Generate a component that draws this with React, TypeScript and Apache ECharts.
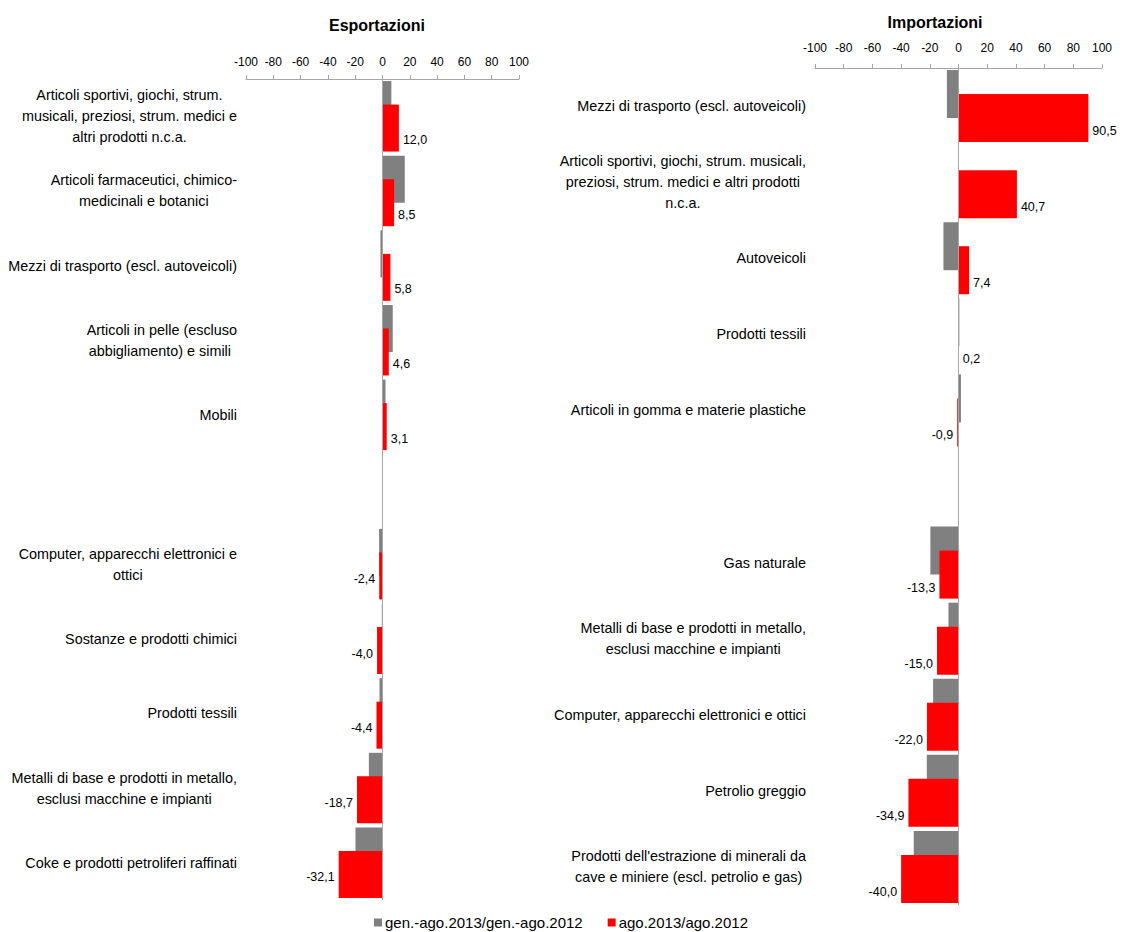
import React, { useEffect, useRef } from 'react';
import * as echarts from 'echarts';

const legendNames = ['gen.-ago.2013/gen.-ago.2012', 'ago.2013/ago.2012'];

const expCategories = [
  'Articoli sportivi, giochi, strum.\nmusicali, preziosi, strum. medici e\naltri prodotti n.c.a.',
  'Articoli farmaceutici, chimico-\nmedicinali e botanici',
  'Mezzi di trasporto (escl. autoveicoli)',
  'Articoli in pelle (escluso\nabbigliamento) e simili ',
  'Mobili',
  '',
  'Computer, apparecchi elettronici e\nottici',
  'Sostanze e prodotti chimici',
  'Prodotti tessili',
  'Metalli di base e prodotti in metallo,\nesclusi macchine e impianti',
  'Coke e prodotti petroliferi raffinati',
];
const expGenAgo = [6.5, 16.3, -1.5, 7.5, 2.2, null, -2.5, -0.5, -2.2, -10.0, -19.8];
const expAgo = [12.0, 8.5, 5.8, 4.6, 3.1, null, -2.4, -4.0, -4.4, -18.7, -32.1];

const impCategories = [
  'Mezzi di trasporto (escl. autoveicoli)',
  'Articoli sportivi, giochi, strum. musicali,\npreziosi, strum. medici e altri prodotti\nn.c.a.',
  'Autoveicoli',
  'Prodotti tessili',
  'Articoli in gomma e materie plastiche',
  '',
  'Gas naturale',
  'Metalli di base e prodotti in metallo,\nesclusi macchine e impianti',
  'Computer, apparecchi elettronici e ottici',
  'Petrolio greggio',
  "Prodotti dell'estrazione di minerali da\ncave e miniere (escl. petrolio e gas)",
];
const impGenAgo = [-8.1, 0.3, -10.5, 0.6, 1.7, null, -19.6, -7.0, -17.7, -22.1, -31.2];
const impAgo = [90.5, 40.7, 7.4, 0.2, -0.9, null, -13.3, -15.0, -22.0, -34.9, -40.0];

const axisMin = -100;
const axisMax = 100;
const axisStep = 20;

const GRAY = '#808080';
const RED = '#ff0000';
const AXIS_GRAY = '#a6a6a6';
const FONT = "'Liberation Sans', Arial, sans-serif";

function fmt(v: number) {
  return v.toFixed(1).replace('.', ',');
}

function redData(values: (number | null)[], posOffset: number, negOffset: number) {
  return values.map((v) =>
    v === null
      ? null
      : {
          value: v,
          label: {
            position: v < 0 ? 'left' : 'right',
            offset: [0, v < 0 ? negOffset : posOffset],
          },
        }
  );
}

export default function App() {
  const ref = useRef<HTMLDivElement>(null);

  useEffect(() => {
    document.body.style.margin = '0';
    if (!ref.current) return;
    const chart = echarts.init(ref.current, null, { renderer: 'svg' });

    const xAxisBase = (gridIndex: number, margin: number) => ({
      type: 'value',
      gridIndex,
      position: 'top',
      min: axisMin,
      max: axisMax,
      interval: axisStep,
      axisLine: { show: true, lineStyle: { color: AXIS_GRAY, width: 1 } },
      axisTick: { show: true, length: 4, lineStyle: { color: AXIS_GRAY } },
      axisLabel: { color: '#000', fontSize: 12, fontFamily: FONT, margin },
      splitLine: { show: false },
    });

    const yAxisBase = (gridIndex: number, data: string[]) => ({
      type: 'category',
      gridIndex,
      inverse: true,
      data,
      axisLine: { show: false },
      axisTick: { show: false },
      axisLabel: {
        color: '#000',
        fontSize: 14.4,
        fontFamily: FONT,
        lineHeight: 21,
        margin: 9,
        interval: 0,
        align: 'right',
        formatter: (v: string) =>
          v === '' ? '' : v.split('\n').map((l) => `{c|${l}}`).join('\n'),
        rich: {
          c: {
            align: 'center',
            color: '#000',
            fontSize: 14.4,
            fontFamily: FONT,
            lineHeight: 21,
          },
        },
      },
      splitLine: { show: false },
    });

    const labelCfg = {
      show: true,
      color: '#000',
      fontSize: 12.5,
      fontFamily: FONT,
      distance: 4,
      formatter: (p: any) => fmt(p.value),
    };

    const zeroLine = {
      silent: true,
      symbol: ['none', 'none'],
      label: { show: false },
      lineStyle: { color: AXIS_GRAY, type: 'solid', width: 1 },
      data: [{ xAxis: 0 }],
    };

    chart.setOption({
      animation: false,
      backgroundColor: '#ffffff',
      textStyle: { fontFamily: FONT },
      graphic: [
        {
          type: 'text',
          x: 377,
          y: 25,
          style: {
            text: 'Esportazioni',
            font: `bold 16px ${FONT}`,
            fill: '#000',
            textAlign: 'center',
            textVerticalAlign: 'middle',
          },
        },
        {
          type: 'text',
          x: 935,
          y: 22,
          style: {
            text: 'Importazioni',
            font: `bold 16px ${FONT}`,
            fill: '#000',
            textAlign: 'center',
            textVerticalAlign: 'middle',
          },
        },
      ],
      legend: {
        data: legendNames,
        left: 374,
        top: 915,
        padding: 0,
        itemWidth: 8,
        itemHeight: 8,
        itemGap: 25,
        icon: 'rect',
        textStyle: { color: '#000', fontSize: 15, fontFamily: FONT, padding: [0, 0, 0, -2] },
      },
      grid: [
        { left: 246, width: 273, top: 79, height: 821, containLabel: false },
        { left: 815, width: 287, top: 68, height: 837, containLabel: false },
      ],
      xAxis: [xAxisBase(0, 11), xAxisBase(1, 14)],
      yAxis: [yAxisBase(0, expCategories), yAxisBase(1, impCategories)],
      series: [
        {
          name: legendNames[0],
          type: 'bar',
          xAxisIndex: 0,
          yAxisIndex: 0,
          data: expGenAgo,
          barWidth: 47,
          barGap: '-50%',
          itemStyle: { color: GRAY },
        },
        {
          name: legendNames[1],
          type: 'bar',
          xAxisIndex: 0,
          yAxisIndex: 0,
          data: redData(expAgo, 12, 3),
          barWidth: 47,
          barGap: '-50%',
          itemStyle: { color: RED },
          label: labelCfg,
          markLine: zeroLine,
        },
        {
          name: legendNames[0],
          type: 'bar',
          xAxisIndex: 1,
          yAxisIndex: 1,
          data: impGenAgo,
          barWidth: 48,
          barGap: '-50%',
          itemStyle: { color: GRAY },
        },
        {
          name: legendNames[1],
          type: 'bar',
          xAxisIndex: 1,
          yAxisIndex: 1,
          data: redData(impAgo, 13, 13),
          barWidth: 48,
          barGap: '-50%',
          itemStyle: { color: RED },
          label: labelCfg,
          markLine: zeroLine,
        },
      ],
    });

    return () => chart.dispose();
  }, []);

  return <div ref={ref} style={{ width: 1126, height: 932 }} />;
}
